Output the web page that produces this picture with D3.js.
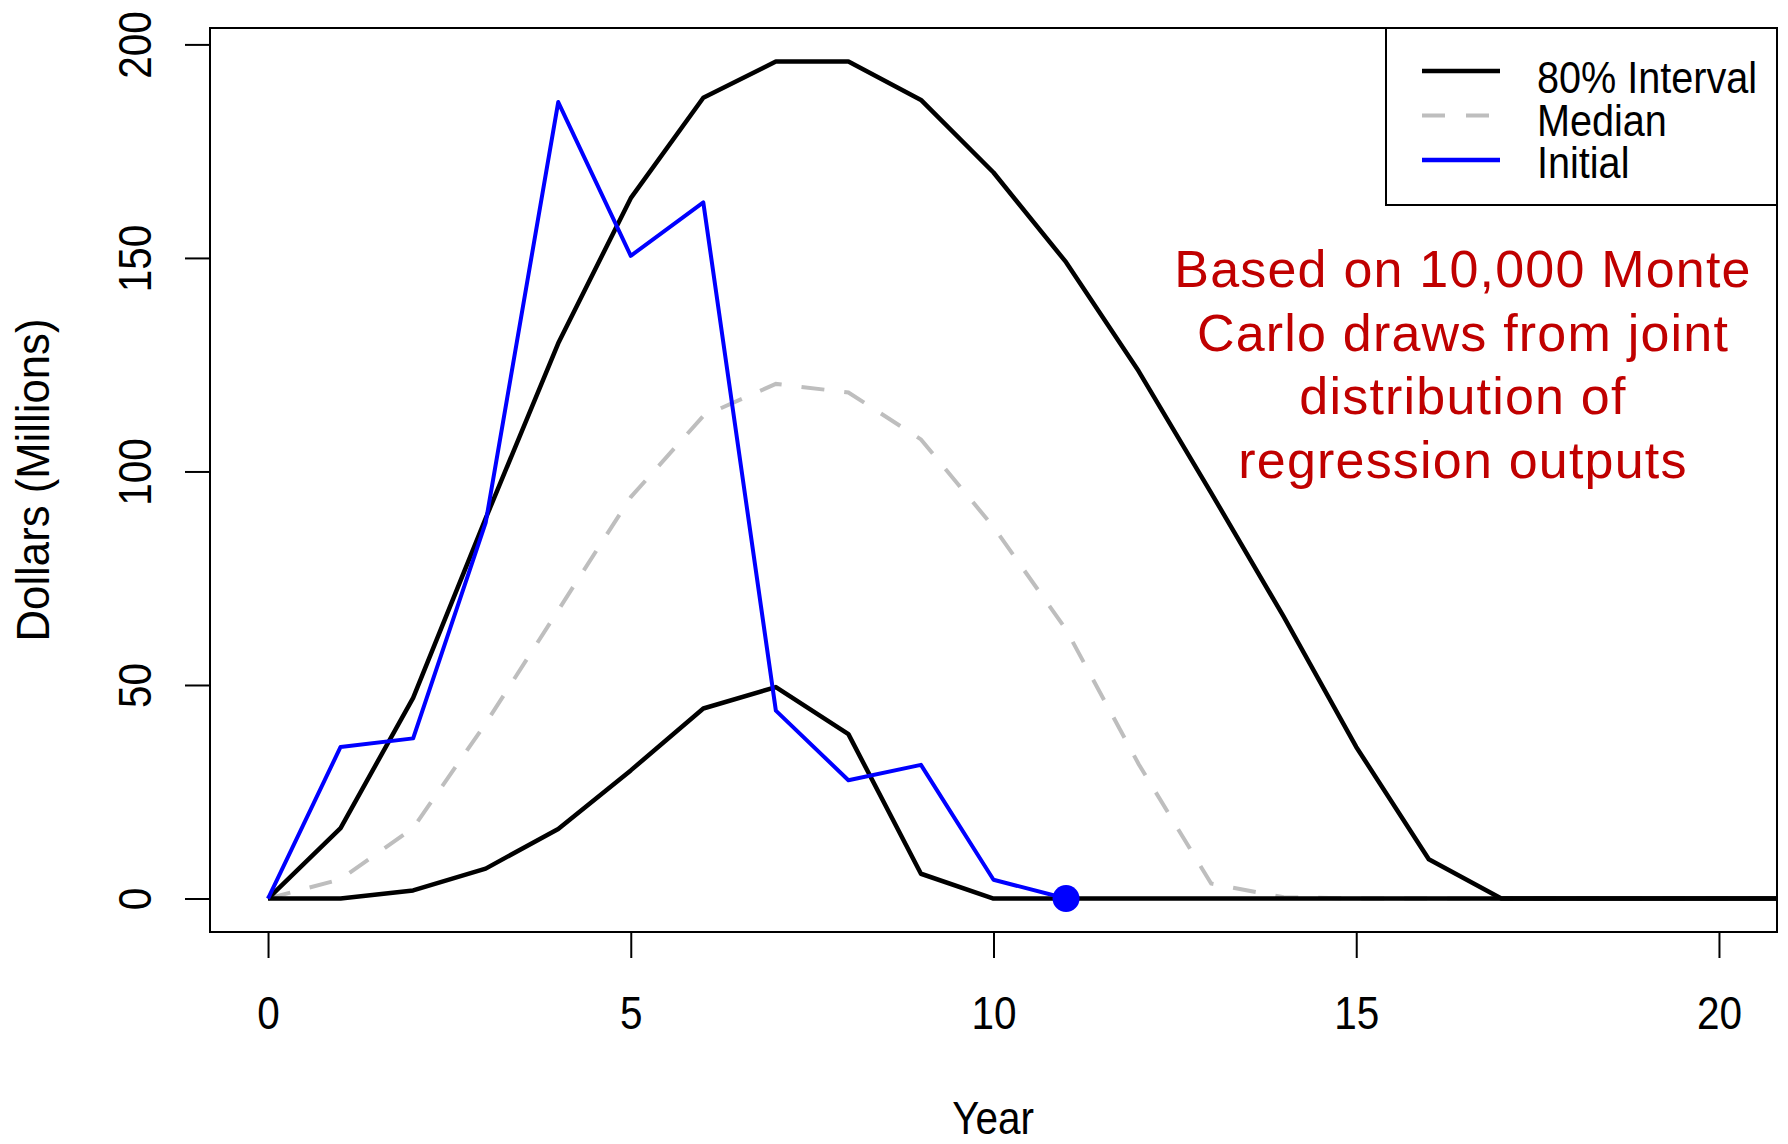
<!DOCTYPE html>
<html>
<head>
<meta charset="utf-8">
<script src="https://cdn.jsdelivr.net/npm/d3@7"></script>
<style>
	body { margin: 0; background: #fff; }
	svg { display: block; font-family: "Liberation Sans", Arial, sans-serif; }
</style>
</head>
<body>
<div id="chart"></div>
<script>
// values, millions of dollars per year
const years   = [0, 1, 2, 3, 4, 5, 6, 7, 8, 9, 10, 11, 12, 13, 14, 15, 16, 17, 18, 19, 20, 21]
const upper   = [0, 16.5, 47, 89, 130, 164, 187.5, 196, 196, 187, 170, 149, 123.5, 95, 66, 35.5, 9.2, 0, 0, 0, 0, 0]
const lower   = [0, 0, 1.9, 7, 16.3, 30, 44.5, 49.5, 38.5, 5.8, 0, 0, 0, 0, 0, 0, 0, 0, 0, 0, 0, 0]
const median  = [0, 4.5, 16.5, 41, 67.5, 94, 113, 120.5, 118.5, 107.5, 87, 63, 31.5, 3.5, 0.3, 0, 0, 0, 0, 0, 0, 0]
const initial = [0, 35.5, 37.5, 88, 186.5, 150.5, 163, 44, 27.7, 31.3, 4.4, 0]
const endPoint = {year: 11, value: 0}

const xTicks = [0, 5, 10, 15, 20]
const yTicks = [0, 50, 100, 150, 200]
const legendItems = ["80% Interval", "Median", "Initial"]
const note = ["Based on 10,000 Monte", "Carlo draws from joint", "distribution of", "regression outputs"]

const W = 1788, H = 1144
const box = {left: 210, right: 1777, top: 28, bottom: 932}

const svg = d3.select("#chart").append("svg")
	.attr("width", W)
	.attr("height", H)

svg.append("clipPath")
	.attr("id", "plotClip")
	.append("rect")
	.attr("x", box.left)
	.attr("y", box.top)
	.attr("width", box.right - box.left)
	.attr("height", box.bottom - box.top)

// R style: 4% padding on both ends
let x = d3.scaleLinear().domain([-0.8, 20.8]).range([box.left, box.right])
let y = d3.scaleLinear().domain([-7.84, 203.84]).range([box.bottom, box.top])

let line = (vals) => d3.line()
	.x((d, i) => x(years[i]))
	.y(d => y(d))(vals)

let plot = svg.append("g").attr("clip-path", "url(#plotClip)")

// median under everything
plot.append("path")
	.attr("d", line(median))
	.attr("fill", "none")
	.attr("stroke", "#bebebe")
	.attr("stroke-width", 4)
	.attr("stroke-dasharray", "23,20")

plot.selectAll(".band")
	.data([upper, lower])
	.enter()
	.append("path")
	.attr("class", "band")
	.attr("d", d => line(d))
	.attr("fill", "none")
	.attr("stroke", "#000")
	.attr("stroke-width", 4.5)
	.attr("stroke-linejoin", "round")

plot.append("path")
	.attr("d", line(initial))
	.attr("fill", "none")
	.attr("stroke", "#0000ff")
	.attr("stroke-width", 4)
	.attr("stroke-linejoin", "round")

plot.append("circle")
	.attr("cx", x(endPoint.year))
	.attr("cy", y(endPoint.value))
	.attr("r", 13.5)
	.attr("fill", "#0000ff")

// axes
let xAxis = svg.append("g")
	.attr("transform", "translate(0," + box.bottom + ")")
	.call(d3.axisBottom(x).tickValues(xTicks).tickSize(26).tickPadding(38))
xAxis.select(".domain").remove()
xAxis.selectAll("line").attr("stroke", "#000").attr("stroke-width", 2)
xAxis.selectAll("text")
	.attr("font-size", 46)
	.attr("font-family", null)
	.attr("fill", "#000")
	.attr("transform", "scale(0.88,1)")

let yAxis = svg.append("g")
	.attr("transform", "translate(" + box.left + ",0)")
	.call(d3.axisLeft(y).tickValues(yTicks).tickSize(25))
yAxis.select(".domain").remove()
yAxis.selectAll("line").attr("stroke", "#000").attr("stroke-width", 2)
yAxis.selectAll("text")
	.attr("x", 0)
	.attr("dy", 0)
	.attr("text-anchor", "middle")
	.attr("font-size", 46)
	.attr("font-family", null)
	.attr("fill", "#000")
	.attr("transform", "translate(-59,0) rotate(-90) scale(0.88,1)")

// plot frame
svg.append("rect")
	.attr("x", box.left)
	.attr("y", box.top)
	.attr("width", box.right - box.left)
	.attr("height", box.bottom - box.top)
	.attr("fill", "none")
	.attr("stroke", "#000")
	.attr("stroke-width", 2)

// axis titles
svg.append("text")
	.attr("transform", "translate(993,1134) scale(0.88,1)")
	.attr("text-anchor", "middle")
	.attr("font-size", 46)
	.text("Year")

svg.append("text")
	.attr("transform", "translate(49," + ((box.top + box.bottom) / 2) + ") rotate(-90) scale(0.95,1)")
	.attr("text-anchor", "middle")
	.attr("font-size", 46)
	.text("Dollars (Millions)")

// legend
let legend = svg.append("g")
legend.append("rect")
	.attr("x", 1386)
	.attr("y", box.top)
	.attr("width", box.right - 1386)
	.attr("height", 205 - box.top)
	.attr("fill", "#fff")
	.attr("stroke", "#000")
	.attr("stroke-width", 2)

let legendStyles = [
	{stroke: "#000", dash: null, width: 4.5},
	{stroke: "#bebebe", dash: "23,21", width: 4},
	{stroke: "#0000ff", dash: null, width: 4.5}
]
legendItems.forEach((name, i) => {
	let ly = 71 + i * 44.5
	legend.append("line")
		.attr("x1", 1422).attr("x2", 1500)
		.attr("y1", ly).attr("y2", ly)
		.attr("stroke", legendStyles[i].stroke)
		.attr("stroke-width", legendStyles[i].width)
		.attr("stroke-dasharray", legendStyles[i].dash)
	legend.append("text")
		.attr("transform", "translate(1537," + (93 + i * 42.5) + ") scale(0.88,1)")
		.attr("font-size", 45)
		.text(name)
})

// annotation
svg.append("g")
	.selectAll("text")
	.data(note)
	.enter()
	.append("text")
	.attr("x", 1463)
	.attr("y", (d, i) => 287 + i * 63.6)
	.attr("text-anchor", "middle")
	.attr("font-size", 52)
	.attr("letter-spacing", 1.2)
	.attr("fill", "#c00000")
	.text(d => d)
</script>
</body>
</html>
